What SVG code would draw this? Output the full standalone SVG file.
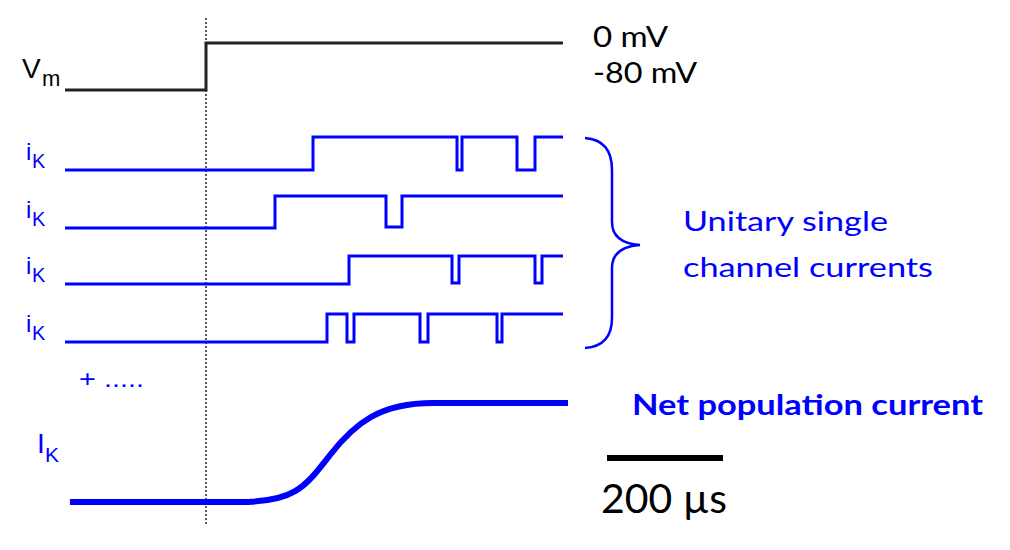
<svg xmlns="http://www.w3.org/2000/svg" width="1010" height="550" viewBox="0 0 1010 550">
<style>
.bg{fill:#fff}
.vm{fill:none;stroke:#222;stroke-width:3}
.tr{fill:none;stroke:#0000ff;stroke-width:3;stroke-linejoin:miter}
.net{fill:none;stroke:#0000ff;stroke-width:6;stroke-linecap:butt}
.brace{fill:none;stroke:#0000ff;stroke-width:2.5}
.dot{stroke:#000;stroke-width:1.3;stroke-dasharray:2,2}
.lbl{font-family:"Liberation Sans",Arial,sans-serif;fill:#0000ff}
.lblk{font-family:"Liberation Sans",Arial,sans-serif;fill:#000}
.cal{font-family:Lato,"Open Sans",sans-serif}
</style>
<rect class="bg" x="0" y="0" width="1010" height="550"/>
<g id="stim-line">
<line class="dot" x1="206" y1="18" x2="206" y2="525"/>
</g>
<g id="vm">
<path class="vm" d="M65,90 H206 V43 H563"/>
<text class="lblk" x="22" y="78" font-size="28">V</text>
<text class="lblk" x="42" y="86" font-size="22">m</text>
<text class="cal" x="593" y="47" font-size="28" fill="#000" textLength="75" lengthAdjust="spacingAndGlyphs">0 mV</text>
<text class="cal" x="593" y="83" font-size="28" fill="#000" textLength="104" lengthAdjust="spacingAndGlyphs">-80 mV</text>
</g>
<g id="ik1">
<text class="lbl" x="26" y="160" font-size="24">i</text>
<text class="lbl" x="32" y="168" font-size="20">K</text>
<path class="tr" d="M65,170 H313 V137 H457 V170 H462 V137 H517 V170 H535 V137 H563"/>
</g>
<g id="ik2">
<text class="lbl" x="26" y="218" font-size="24">i</text>
<text class="lbl" x="32" y="226" font-size="20">K</text>
<path class="tr" d="M65,228 H275 V196 H386 V227 H402 V196 H563"/>
</g>
<g id="ik3">
<text class="lbl" x="26" y="274" font-size="24">i</text>
<text class="lbl" x="32" y="282" font-size="20">K</text>
<path class="tr" d="M65,284 H349 V256 H452 V283 H459 V256 H535 V283 H542 V256 H563"/>
</g>
<g id="ik4">
<text class="lbl" x="26" y="332" font-size="24">i</text>
<text class="lbl" x="32" y="340" font-size="20">K</text>
<path class="tr" d="M65,342 H327 V314 H347 V342 H354 V314 H420 V342 H428 V314 H497 V342 H502 V314 H563"/>
</g>
<g id="more">
<text class="lbl" x="79" y="387" font-size="24" textLength="65" lengthAdjust="spacingAndGlyphs">+ .....</text>
</g>
<g id="brace">
<path class="brace" d="M585,138 Q612,140 612,170 V222 Q612,243 640,245 Q612,247 612,268 V318 Q612,346 585,348"/>
<text class="cal" x="683" y="231" font-size="26" fill="#0000ff" textLength="205" lengthAdjust="spacingAndGlyphs">Unitary single</text>
<text class="cal" x="683" y="277" font-size="26" fill="#0000ff" textLength="250" lengthAdjust="spacingAndGlyphs">channel currents</text>
</g>
<g id="net">
<text class="lbl" x="37" y="453" font-size="28">I</text>
<text class="lbl" x="45" y="462" font-size="21">K</text>
<path class="net" d="M70,502 H240 C295,502 305,487 330,455 C355,423 380,403 433,403 H568"/>
<text class="cal" x="632" y="415" font-size="29" font-weight="bold" fill="#0000ff" textLength="351" lengthAdjust="spacingAndGlyphs">Net population current</text>
</g>
<g id="scalebar">
<line x1="607" y1="458" x2="723" y2="458" stroke="#000" stroke-width="6"/>
<text class="cal" x="601" y="513" font-size="40" fill="#000" textLength="126" lengthAdjust="spacingAndGlyphs">200 µs</text>
</g>
</svg>
